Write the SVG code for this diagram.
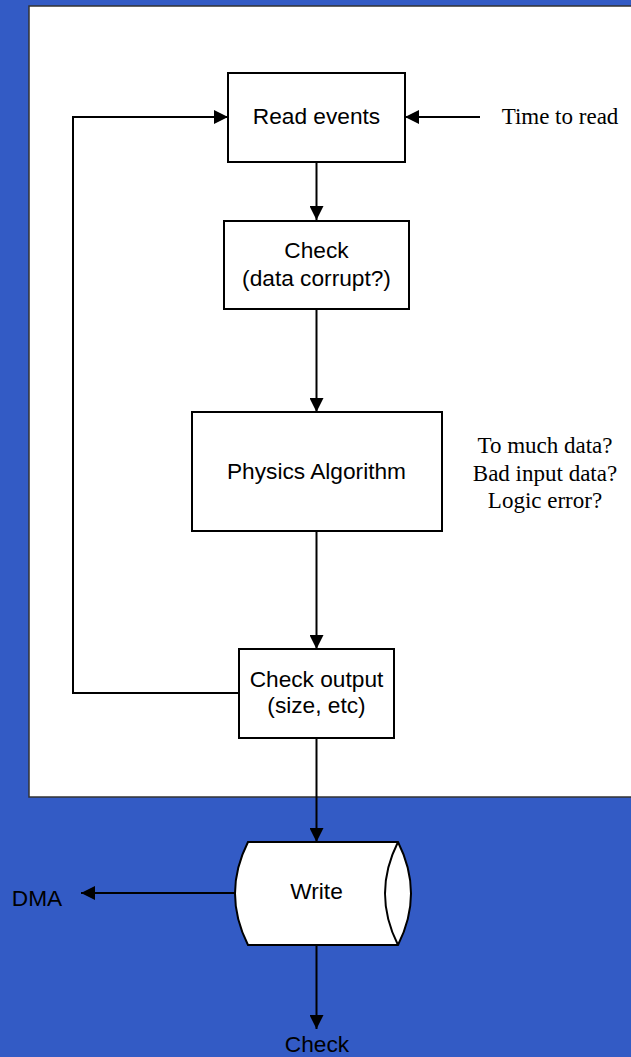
<svg xmlns="http://www.w3.org/2000/svg" width="631" height="1057" viewBox="0 0 631 1057">
  <defs>
    <marker id="arrow" markerUnits="userSpaceOnUse" markerWidth="14" markerHeight="14" refX="14" refY="7" orient="auto">
      <path d="M0,0 L14,7 L0,14 Z" fill="#000"/>
    </marker>
    <style>
      .box { fill: #fff; stroke: #000; stroke-width: 2; }
      .edge { fill: none; stroke: #000; stroke-width: 2; marker-end: url(#arrow); }
      .line { fill: none; stroke: #000; stroke-width: 2; }
      .sans { font-family: "Liberation Sans", Arial, sans-serif; font-size: 22.7px; fill: #000; text-anchor: middle; }
      .serif { font-family: "Liberation Serif", "Times New Roman", serif; font-size: 23px; fill: #000; text-anchor: middle; }
    </style>
  </defs>

  <!-- background and white panel -->
  <rect x="0" y="0" width="631" height="1057" fill="#335BC5"/>
  <rect x="29" y="6" width="612" height="791" fill="#fff" stroke="#333" stroke-width="1.5"/>

  <!-- connectors -->
  <g id="connectors">
    <line class="edge" x1="316.5" y1="162" x2="316.5" y2="220"/>
    <line class="edge" x1="316.5" y1="309" x2="316.5" y2="412"/>
    <line class="edge" x1="316.5" y1="531" x2="316.5" y2="649"/>
    <polyline class="edge" points="239,693 73,693 73,117 228,117"/>
    <line class="edge" x1="480" y1="117" x2="405" y2="117"/>
    <line class="edge" x1="316.5" y1="738" x2="316.5" y2="842"/>
    <line class="edge" x1="236" y1="893" x2="81" y2="893"/>
    <line class="edge" x1="316.5" y1="945" x2="316.5" y2="1029"/>
  </g>

  <g id="read-events">
    <rect class="box" x="228" y="73" width="177" height="89"/>
    <text class="sans" x="316.5" y="124">Read events</text>
  </g>

  <g id="time-to-read">
    <text class="serif" x="560" y="124">Time to read</text>
  </g>

  <g id="check-data">
    <rect class="box" x="224" y="221" width="185" height="88"/>
    <text class="sans" x="316.5" y="258">Check</text>
    <text class="sans" x="316.5" y="286">(data corrupt?)</text>
  </g>

  <g id="physics">
    <rect class="box" x="192" y="412" width="250" height="119"/>
    <text class="sans" x="316.5" y="479">Physics Algorithm</text>
  </g>

  <g id="physics-notes">
    <text class="serif" x="545" y="453">To much data?</text>
    <text class="serif" x="545" y="481">Bad input data?</text>
    <text class="serif" x="545" y="508">Logic error?</text>
  </g>

  <g id="check-output">
    <rect class="box" x="239" y="649" width="155" height="89"/>
    <text class="sans" x="316.5" y="687">Check output</text>
    <text class="sans" x="316.5" y="713">(size, etc)</text>
  </g>

  <g id="write">
    <!-- storage drum: flat top/bottom, curved ends -->
    <path class="box" d="M248,842 L398,842 Q424,893.5 398,945 L248,945 Q222,893.5 248,842 Z"/>
    <path class="line" d="M398,842 Q372,893.5 398,945"/>
    <text class="sans" x="316.5" y="899">Write</text>
  </g>

  <g id="dma">
    <text class="sans" x="37" y="906">DMA</text>
  </g>

  <g id="check-final">
    <text class="sans" x="317" y="1052">Check</text>
  </g>
</svg>
